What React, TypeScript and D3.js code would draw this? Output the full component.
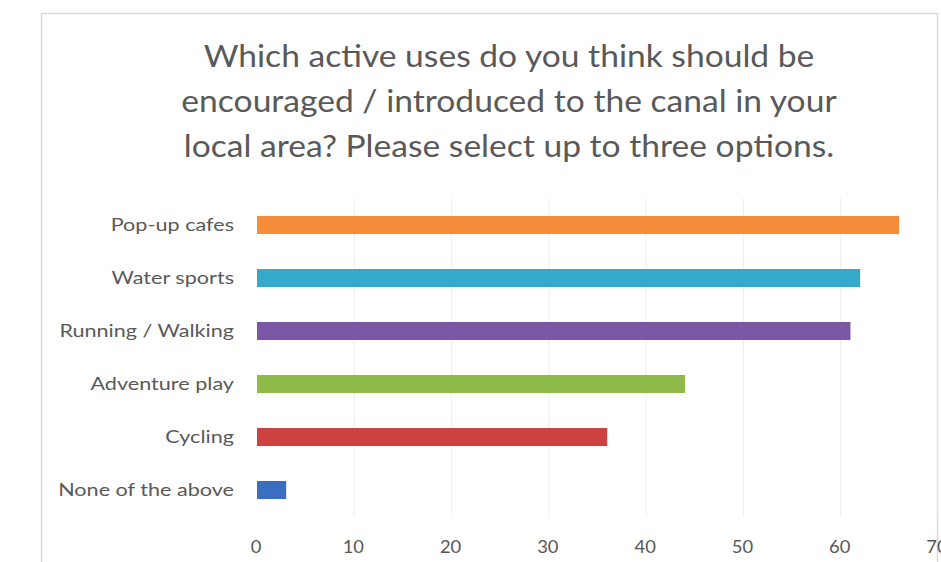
import React from "react";
import * as d3 from "d3";

const categories = ["Pop-up cafes", "Water sports", "Running / Walking", "Adventure play", "Cycling", "None of the above"];
const values = [66, 62, 61, 44, 36, 3];
const colors = ["#F68D3A", "#36A9CA", "#7B58A6", "#8DBA48", "#CE4141", "#3B6EC0"];
const ticks = [0, 10, 20, 30, 40, 50, 60, 70];
const titleLines = [
  "Which active uses do you think should be",
  "encouraged / introduced to the canal in your",
  "local area? Please select up to three options.",
];

export default function App() {
  const W = 941, H = 562;
  const x = d3.scaleLinear().domain([0, 70]).range([257, 938]);
  const y = d3.scaleBand().domain(categories).range([198.5, 516.5]).paddingInner(0.66).paddingOuter(0.33);
  const font = "Lato, 'Open Sans', sans-serif";
  return (
    <svg width={W} height={H} style={{ position: "absolute", left: 0, top: 0, background: "#fff" }}>
      <rect x={41.5} y={13.5} width={896} height={560} fill="#fff" stroke="#d9d9d9" strokeWidth={1.5} />
      {titleLines.map((t, i) => (
        <text key={i} transform={`translate(509,${67 + i * 45}) scale(1.12,1)`} textAnchor="middle" fontFamily={font} fontSize={30} fill="#595959">{t}</text>
      ))}
      {ticks.slice(1).map(t => (
        <line key={t} x1={x(t)} x2={x(t)} y1={198} y2={517} stroke="#eeeeee" strokeWidth={1} />
      ))}
      {categories.map((c, i) => (
        <g key={c}>
          <rect x={x(0)} y={y(c)!} width={x(values[i]) - x(0)} height={y.bandwidth()} fill={colors[i]} />
          <text transform={`translate(234,${y(c)! + y.bandwidth() / 2}) scale(1.2,1)`} dy="0.35em" textAnchor="end" fontFamily={font} fontSize={18} fill="#595959">{c}</text>
        </g>
      ))}
      {ticks.map(t => (
        <text key={t} transform={`translate(${x(t) - 1},553) scale(1.08,1)`} textAnchor="middle" fontFamily={font} fontSize={17} fill="#595959">{t}</text>
      ))}
    </svg>
  );
}
